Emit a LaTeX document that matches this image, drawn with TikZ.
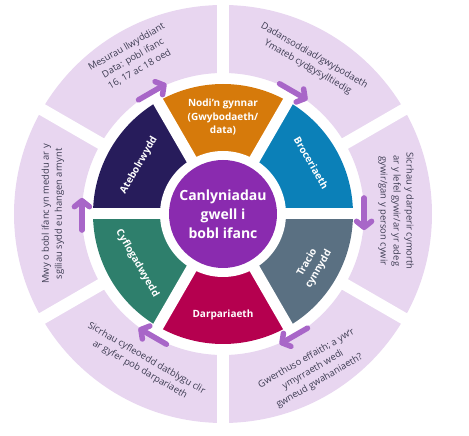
\documentclass[tikz,border=0pt]{standalone}
\usepackage{fontspec}
\setmainfont{Open Sans}
\usetikzlibrary{arrows.meta}
\definecolor{ringc}{HTML}{E8D6F0}
\definecolor{orangec}{HTML}{D67A0B}
\definecolor{bluec}{HTML}{0B80B8}
\definecolor{slatec}{HTML}{5A7082}
\definecolor{crimsonc}{HTML}{B5004F}
\definecolor{greenc}{HTML}{2E7F6C}
\definecolor{navyc}{HTML}{271C5B}
\definecolor{hubc}{HTML}{8A2BAF}
\definecolor{arrowc}{HTML}{A866C8}
\definecolor{outtext}{HTML}{3D3C52}
\begin{document}
\begin{tikzpicture}[x=1pt,y=1pt,
  outertxt/.style={text=outtext, font=\fontsize{9.4}{13}\selectfont, align=center, inner sep=0pt},
  segtxt/.style={text=white, font=\bfseries\fontsize{10}{13.3}\selectfont, align=center, inner sep=0pt},
  flow/.style={draw=arrowc, line width=5.5pt, line cap=round, -{Straight Barb[length=6pt,width=15pt,round]}},
  outergap/.style={draw=white, line width=12pt},
  innergap/.style={draw=white, line width=11pt}]
\useasboundingbox (-223,-222) rectangle (246,214);
% outer ring
\fill[ringc, even odd rule] (0,0) circle[radius=209] (0,0) circle[radius=141];
\foreach \a in {30,90,...,330} \draw[outergap] (\a:136) -- (\a:215);
% inner segments
\foreach \a/\c in {60/orangec, 0/bluec, -60/slatec, -120/crimsonc, 180/greenc, 120/navyc}
  \fill[\c] (0,0) -- (\a:130) arc[start angle=\a, end angle={\a+60}, radius=130] -- cycle;
\fill[white] (0,0) circle[radius=63];
\foreach \a in {0,60,...,300} \draw[innergap] (\a:55) -- (\a:136);
\node[circle, fill=hubc, minimum size=108pt, inner sep=0pt, text=white,
  font=\bfseries\fontsize{14}{19}\selectfont, align=center] (hub) at (0,0) {Canlyniadau\\gwell i\\bobl ifanc};
% arrows
\foreach \a [count=\i] in {120,60,0,-60,-120,180} {
  \coordinate (s\i) at ({\a+6.5}:142);
  \coordinate (e\i) at ({\a-6.5}:142);
  \draw[flow] (s\i) -- (e\i);
}
% outer texts
\node[outertxt, rotate=30] (m1) at (120:180) {Mesurau llwyddiant\\Data: pobl ifanc\\16, 17 ac 18 oed};
\node[outertxt, rotate=-30] (m2) at (60:176) {Dadansoddiad/gwybodaeth\\Ymateb cydgysylltiedig};
\node[outertxt, rotate=-90] (m3) at (1:173) {Sicrhau y darperir cymorth\\ar y lefel gywir/ar yr adeg\\gywir/gan y person cywir};
\node[outertxt, rotate=30] (m4) at (-60:180) {Gwerthuso effaith; a yw'r\\ymyrraeth wedi\\gwneud gwahaniaeth?};
\node[outertxt, rotate=-30] (m5) at (242:170) {Sicrhau cyfleoedd datblygu clir\\ar gyfer pob darpariaeth};
\node[outertxt, rotate=90] (m6) at (180:170) {Mwy o bobl ifanc yn meddu ar y\\sgiliau sydd eu hangen arnynt};
% segment texts
\node[segtxt] (t1) at (90:97) {Nodi'n gynnar\\(Gwybodaeth/\\data)};
\node[segtxt, rotate=-60] (t2) at (30:102) {Broceriaeth};
\node[segtxt, rotate=60] (t3) at (-30:104) {Tracio\\cynnydd};
\node[segtxt] (t4) at (-90:101) {Darpariaeth};
\node[segtxt, rotate=-60] (t5) at (210:99) {Cyflogadwyedd};
\node[segtxt, rotate=60] (t6) at (150:97) {Atebolrwydd};
\end{tikzpicture}
\end{document}
